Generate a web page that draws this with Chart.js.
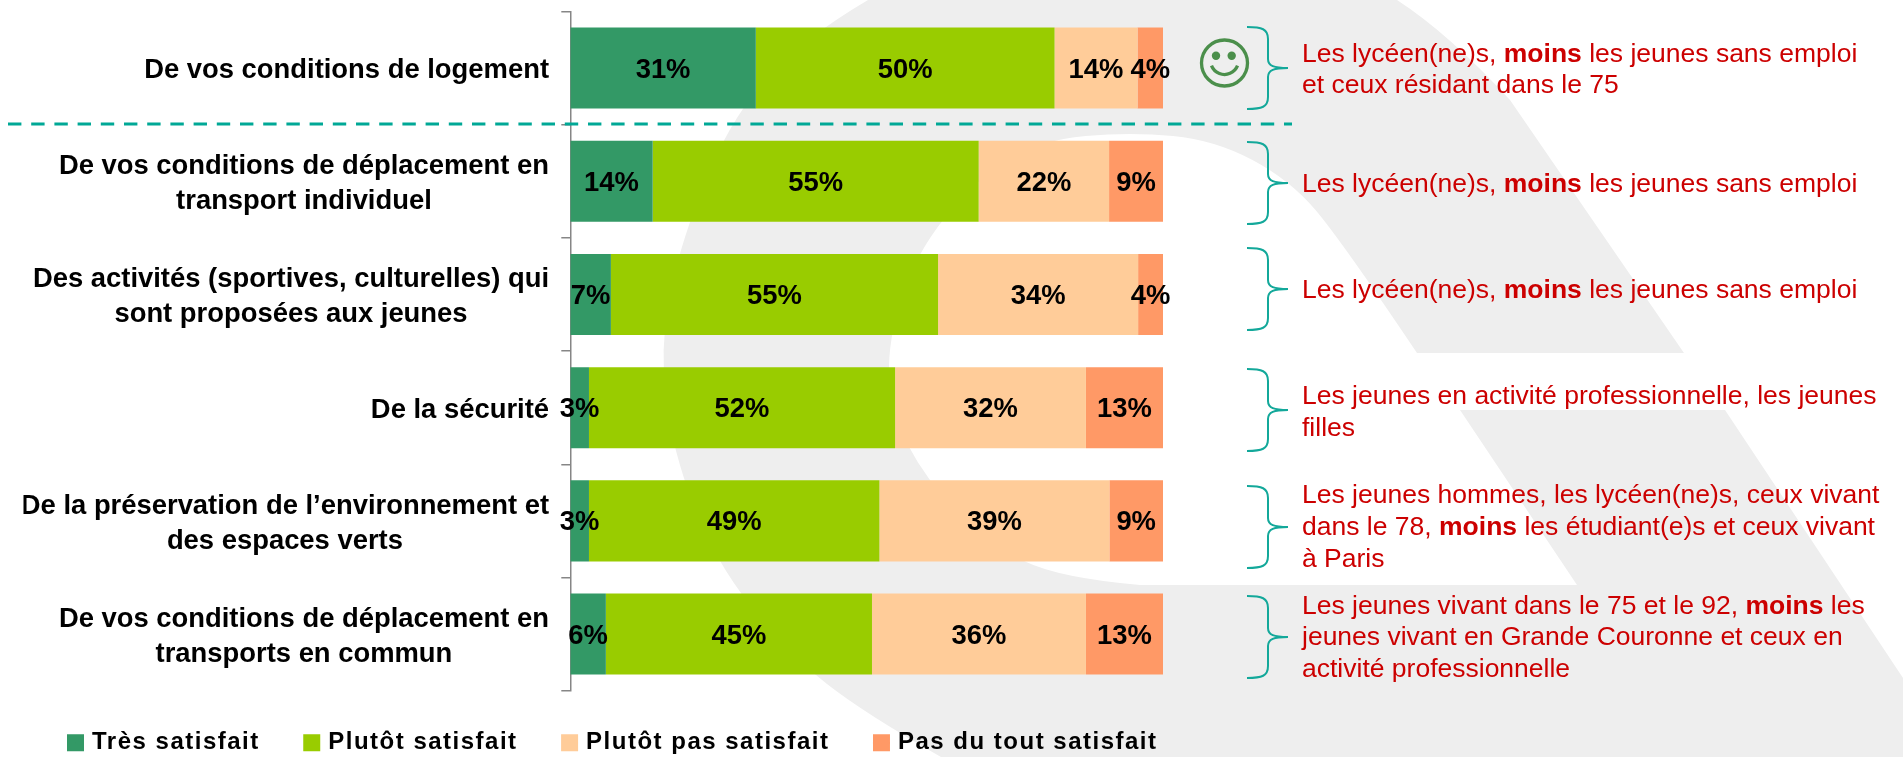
<!DOCTYPE html>
<html lang="fr">
<head>
<meta charset="utf-8">
<title>Satisfaction</title>
<style>html,body{margin:0;padding:0;background:#fff}canvas{display:block}</style>
<script src="https://cdn.jsdelivr.net/npm/chart.js@4/dist/chart.umd.min.js"></script>
</head>
<body>
<canvas id="c" width="1903" height="757"></canvas>
<script>
const categories = [
  ["De vos conditions de logement"],
  ["De vos conditions de déplacement en", "transport individuel"],
  ["Des activités (sportives, culturelles) qui", "sont proposées aux jeunes"],
  ["De la sécurité"],
  ["De la préservation de l’environnement et", "des espaces verts"],
  ["De vos conditions de déplacement en", "transports en commun"]
];
const seriesNames = ["Très satisfait", "Plutôt satisfait", "Plutôt pas satisfait", "Pas du tout satisfait"];
const tresSatisfait = [31.3, 13.9, 6.85, 3.15, 3.15, 6.0];
const plutotSatisfait = [50.4, 55.0, 55.2, 51.65, 49.0, 44.9];
const plutotPasSatisfait = [14.0, 22.0, 33.75, 32.2, 38.8, 36.1];
const pasDuToutSatisfait = [4.3, 9.1, 4.2, 13.0, 9.05, 13.0];
const annotations = [
  ["Les lycéen(ne)s, **moins** les jeunes sans emploi", "et ceux résidant dans le 75"],
  ["Les lycéen(ne)s, **moins** les jeunes sans emploi"],
  ["Les lycéen(ne)s, **moins** les jeunes sans emploi"],
  ["Les jeunes en activité professionnelle, les jeunes", "filles"],
  ["Les jeunes hommes, les lycéen(ne)s, ceux vivant", "dans le 78, **moins** les étudiant(e)s et ceux vivant", "à Paris"],
  ["Les jeunes vivant dans le 75 et le 92, **moins** les", "jeunes vivant en Grande Couronne et ceux en", "activité professionnelle"]
];

const FONT = '"Liberation Sans", Arial, sans-serif';
const TEAL = '#13A89A';

function smooth(ctx, pts) {
  for (let i = 1; i < pts.length - 1; i++) {
    const mx = (pts[i][0] + pts[i + 1][0]) / 2, my = (pts[i][1] + pts[i + 1][1]) / 2;
    ctx.quadraticCurveTo(pts[i][0], pts[i][1], i === pts.length - 2 ? pts[i + 1][0] : mx, i === pts.length - 2 ? pts[i + 1][1] : my);
  }
}

const backdrop = {
  id: 'backdrop',
  beforeDraw(chart) {
    const c = chart.ctx;
    c.save();
    c.fillStyle = '#EEEEEE';
    c.beginPath();
    c.moveTo(868, 0);
    c.lineTo(1397, 0);
    smooth(c, [[1397, 0], [1448, 33], [1510, 100]]);
    c.lineTo(1684, 353);
    c.lineTo(1417, 353);
    smooth(c, [[1417, 353], [1341, 240], [1290, 180], [1215, 140], [1131, 132], [1040, 140], [975, 180], [915, 255], [888, 340], [890, 410], [926, 480], [990, 545], [1060, 578], [1140, 585]]);
    c.lineTo(1577, 585);
    c.lineTo(1460, 410);
    c.lineTo(1725, 410);
    c.lineTo(1903, 678);
    c.lineTo(1903, 757);
    c.lineTo(941, 757);
    smooth(c, [[941, 757], [864, 713], [790, 655], [714, 560], [672, 448], [660, 350], [677, 254], [727, 124], [800, 40], [868, 0]]);
    c.closePath();
    c.fill();
    c.restore();

    // tick labels: lines centred on each other, block flush right
    const y = chart.scales.y;
    const tf = y.options.ticks.font;
    c.save();
    c.font = `${tf.weight} ${tf.size}px ${tf.family}`;
    y.getLabelItems().forEach((item, i) => {
      const lines = Array.isArray(item.label) ? item.label : [item.label];
      const w = Math.max(...lines.map(l => c.measureText(l).width));
      item.options.textAlign = 'center';
      item.options.translation = [549 - w / 2, y.getPixelForTick(i) + 2.7];
    });
    c.restore();
  }
};

const legendSpacing = {
  id: 'legendSpacing',
  beforeLayout(chart) {
    const lg = chart.legend;
    if (!lg || lg._wrapped) return;
    lg._wrapped = true;
    const fit = lg.fit, draw = lg.draw;
    lg.fit = function () {
      this.ctx.letterSpacing = '1.5px';
      fit.call(this);
      this.ctx.letterSpacing = '0px';
      this.height = 66.3;
    };
    lg.draw = function () {
      this.ctx.letterSpacing = '1.5px';
      this.top = 683.3;
      draw.call(this);
      this.ctx.letterSpacing = '0px';
    };
  }
};

function brace(c, xL, xM, xT, top, tip, bot) {
  c.beginPath();
  c.moveTo(xL, top);
  c.bezierCurveTo(xM - 6, top, xM, top + 2, xM, top + 12);
  c.lineTo(xM, tip - 9);
  c.bezierCurveTo(xM, tip - 2, xM + 6, tip, xT, tip);
  c.bezierCurveTo(xM + 6, tip, xM, tip + 2, xM, tip + 9);
  c.lineTo(xM, bot - 12);
  c.bezierCurveTo(xM, bot - 2, xM - 6, bot, xL, bot);
  c.stroke();
}

const overlays = {
  id: 'overlays',
  afterDatasetsDraw(chart) {
    const c = chart.ctx;
    c.save();
    // value labels
    c.font = `bold 27.4px ${FONT}`;
    c.fillStyle = '#000';
    c.textAlign = 'center';
    c.textBaseline = 'middle';
    chart.data.datasets.forEach((ds, d) => {
      chart.getDatasetMeta(d).data.forEach((bar, i) => {
        const p = bar.getCenterPoint();
        c.fillText(Math.round(ds.data[i]) + '%', p.x, p.y + 2);
      });
    });

    // dashed separator
    c.strokeStyle = '#00A896';
    c.lineWidth = 3;
    c.setLineDash([13.4, 9.8]);
    c.beginPath();
    c.moveTo(8, 124);
    c.lineTo(1292, 124);
    c.stroke();
    c.setLineDash([]);

    // braces
    c.strokeStyle = TEAL;
    c.lineWidth = 2;
    const braceTips = [68, 183, 289, 410, 527, 637];
    braceTips.forEach(t => brace(c, 1247, 1268, 1288, t - 41, t, t + 41));

    // annotation text
    const baselines = [[61.5, 93.2], [192.3], [298.3], [403.5, 435.5], [503.2, 535.2, 566.9], [613.5, 645.3, 676.9]];
    c.textAlign = 'left';
    c.textBaseline = 'alphabetic';
    c.fillStyle = '#CC0000';
    annotations.forEach((lines, i) => {
      lines.forEach((line, j) => {
        let x = 1302;
        line.split('**').forEach((seg, k) => {
          c.font = `${k % 2 ? 'bold' : 'normal'} 26.5px ${FONT}`;
          c.fillText(seg, x, baselines[i][j]);
          x += c.measureText(seg).width;
        });
      });
    });

    // smiley
    c.strokeStyle = '#4B8F4B';
    c.fillStyle = '#4B8F4B';
    c.lineWidth = 3.3;
    c.beginPath(); c.arc(1224.5, 63, 23, 0, Math.PI * 2); c.stroke();
    c.beginPath(); c.arc(1216, 55.7, 4.2, 0, Math.PI * 2); c.fill();
    c.beginPath(); c.arc(1231.7, 55.7, 4.2, 0, Math.PI * 2); c.fill();
    c.beginPath(); c.arc(1224.5, 60.5, 14, 0.12 * Math.PI, 0.88 * Math.PI); c.stroke();
    c.restore();
  }
};

const seriesValues = [tresSatisfait, plutotSatisfait, plutotPasSatisfait, pasDuToutSatisfait];
const seriesColors = ['#339966', '#99CC00', '#FFCC99', '#FF9966'];

new Chart(document.getElementById('c'), {
  type: 'bar',
  data: {
    labels: categories,
    datasets: seriesNames.map((name, i) => ({
      label: name,
      data: seriesValues[i],
      backgroundColor: seriesColors[i],
      borderWidth: 0,
      categoryPercentage: 1,
      barPercentage: 0.7155
    }))
  },
  options: {
    indexAxis: 'y',
    responsive: false,
    animation: false,
    layout: { padding: { left: 23.5, top: 11.4, right: 0, bottom: 0 } },
    plugins: {
      tooltip: { enabled: false },
      legend: {
        position: 'bottom',
        align: 'start',
        labels: {
          boxWidth: 9,
          boxHeight: 9,
          padding: 47.5,
          color: '#000',
          font: { family: FONT, size: 24, weight: 'bold' },
          generateLabels(chart) {
            return chart.data.datasets.map((ds, i) => ({
              text: ds.label,
              fillStyle: ds.backgroundColor,
              strokeStyle: ds.backgroundColor,
              lineWidth: 8,
              fontColor: '#000',
              datasetIndex: i
            }));
          }
        }
      }
    },
    scales: {
      x: { stacked: true, display: false, min: 0, max: 100 },
      y: {
        stacked: true,
        afterFit(s) { s.width = 570.3 - 23.5; s.paddingTop = 0; s.paddingBottom = 0; },
        grid: { drawOnChartArea: false, drawTicks: true, tickLength: 9, color: '#868686', lineWidth: 1.5 },
        border: { color: '#868686', width: 1.5 },
        ticks: {
          autoSkip: false,
          padding: 10,
          color: '#000',
          font: { family: FONT, size: 27.4, weight: 'bold', lineHeight: 1.28 }
        }
      },
      side: {
        type: 'linear',
        position: 'right',
        afterFit(s) { s.width = 1903 - 1163; s.paddingTop = 0; s.paddingBottom = 0; },
        grid: { display: false },
        border: { display: false },
        ticks: { display: false }
      }
    }
  },
  plugins: [backdrop, legendSpacing, overlays]
});
</script>
</body>
</html>
